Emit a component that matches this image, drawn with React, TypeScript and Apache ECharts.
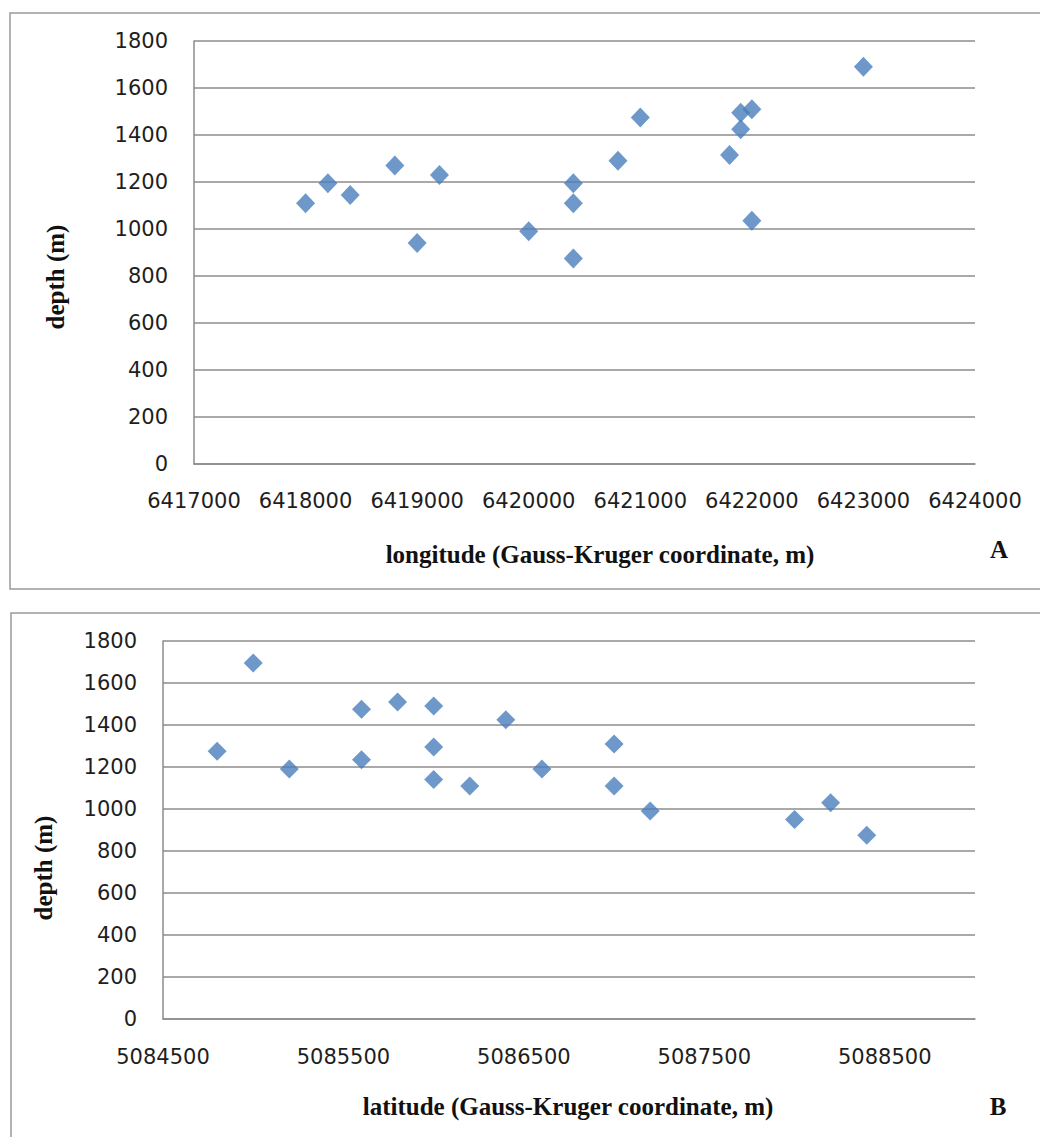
import React, { useEffect, useRef } from "react";
import * as echarts from "echarts";

// Panel A: longitude vs depth
const lonValues = [6418000, 6418200, 6418400, 6418800, 6419000, 6419200, 6420000, 6420400, 6420400, 6420400, 6420800, 6421000, 6421800, 6421900, 6421900, 6422000, 6422000, 6423000];
const lonDepths = [1110, 1195, 1145, 1270, 940, 1230, 990, 1195, 1110, 875, 1290, 1475, 1315, 1425, 1495, 1510, 1035, 1690];

// Panel B: latitude vs depth
const latValues = [5084800, 5085000, 5085200, 5085600, 5085600, 5085800, 5086000, 5086000, 5086000, 5086200, 5086400, 5086600, 5087000, 5087000, 5087200, 5088000, 5088200, 5088400];
const latDepths = [1275, 1695, 1190, 1475, 1235, 1510, 1490, 1295, 1140, 1110, 1425, 1190, 1310, 1110, 990, 950, 1030, 875];

// Axis ranges
const depthRange = [0, 1800, 200];
const lonRange = [6417000, 6424000, 1000];
const latRange = [5084500, 5089000, 500];
const latLabelStep = 1000;

const titleA = "longitude (Gauss-Kruger coordinate, m)";
const titleB = "latitude (Gauss-Kruger coordinate, m)";
const yTitle = "depth (m)";

const GRID_COLOR = "#8c8c8c";
const MARKER = "#4a7ebb";
const LABEL_FONT = "'DejaVu Sans', Verdana, sans-serif";
const SERIF = "'Liberation Serif', 'Times New Roman', serif";

export default function App() {
  const ref = useRef<HTMLDivElement>(null);
  useEffect(() => {
    if (!ref.current) return;
    const chart = echarts.init(ref.current, undefined, { renderer: "svg" });
    const labelStyle = { color: "#1e1e1e", fontFamily: LABEL_FONT, fontSize: 21 };
    const lineStyle = { color: GRID_COLOR, width: 1.5 };
    const yAxisBase = {
      type: "value" as const,
      min: depthRange[0],
      max: depthRange[1],
      interval: depthRange[2],
      axisLine: { show: true, lineStyle },
      axisTick: { show: false },
      splitLine: { show: true, lineStyle },
      axisLabel: { ...labelStyle, margin: 26, formatter: (v: number) => String(v) },
    };
    chart.setOption({
      animation: false,
      backgroundColor: "#fff",
      grid: [
        { left: 194, top: 41, width: 781, height: 423 },
        { left: 163, top: 641, width: 812, height: 378 },
      ],
      xAxis: [
        {
          gridIndex: 0,
          type: "value",
          min: lonRange[0],
          max: lonRange[1],
          interval: lonRange[2],
          axisLine: { show: true, onZero: false, lineStyle },
          axisTick: { show: false },
          splitLine: { show: false },
          axisLabel: { ...labelStyle, margin: 26, formatter: (v: number) => String(v) },
        },
        {
          gridIndex: 1,
          type: "value",
          min: latRange[0],
          max: latRange[1],
          interval: latRange[2],
          axisLine: { show: true, onZero: false, lineStyle },
          axisTick: { show: false },
          splitLine: { show: false },
          axisLabel: {
            ...labelStyle,
            margin: 27,
            showMaxLabel: false,
            formatter: (v: number) => ((v - latRange[0]) % latLabelStep === 0 ? String(v) : ""),
          },
        },
      ],
      yAxis: [
        { ...yAxisBase, gridIndex: 0 },
        { ...yAxisBase, gridIndex: 1 },
      ],
      series: [
        {
          type: "scatter",
          xAxisIndex: 0,
          yAxisIndex: 0,
          symbol: "diamond",
          symbolSize: [19, 20],
          itemStyle: { color: MARKER },
          data: lonValues.map((x, i) => [x, lonDepths[i]]),
        },
        {
          type: "scatter",
          xAxisIndex: 1,
          yAxisIndex: 1,
          symbol: "diamond",
          symbolSize: [19, 19],
          itemStyle: { color: MARKER },
          data: latValues.map((x, i) => [x, latDepths[i]]),
        },
      ],
      graphic: [
        {
          type: "rect",
          shape: { x: 10, y: 13, width: 1060, height: 576 },
          style: { fill: "none", stroke: "#9a9a9a", lineWidth: 1.5 },
          silent: true,
          z: -1,
        },
        {
          type: "rect",
          shape: { x: 11, y: 613, width: 1060, height: 560 },
          style: { fill: "none", stroke: "#9a9a9a", lineWidth: 1.5 },
          silent: true,
          z: -1,
        },
        {
          type: "text",
          x: 600,
          y: 554,
          style: { text: titleA, font: `bold 25px ${SERIF}`, fill: "#111", align: "center", verticalAlign: "middle" },
        },
        {
          type: "text",
          x: 999,
          y: 549,
          style: { text: "A", font: `bold 25px ${SERIF}`, fill: "#111", align: "center", verticalAlign: "middle" },
        },
        {
          type: "text",
          x: 568,
          y: 1106,
          style: { text: titleB, font: `bold 25px ${SERIF}`, fill: "#111", align: "center", verticalAlign: "middle" },
        },
        {
          type: "text",
          x: 998,
          y: 1106,
          style: { text: "B", font: `bold 25px ${SERIF}`, fill: "#111", align: "center", verticalAlign: "middle" },
        },
        {
          type: "text",
          x: 55,
          y: 277,
          rotation: Math.PI / 2,
          style: { text: yTitle, font: `bold 25px ${SERIF}`, fill: "#111", align: "center", verticalAlign: "middle" },
        },
        {
          type: "text",
          x: 43,
          y: 868,
          rotation: Math.PI / 2,
          style: { text: yTitle, font: `bold 25px ${SERIF}`, fill: "#111", align: "center", verticalAlign: "middle" },
        },
      ],
    });
    return () => chart.dispose();
  }, []);
  return (
    <div
      ref={ref}
      style={{ position: "absolute", left: 0, top: 0, width: 1040, height: 1137, overflow: "hidden" }}
    />
  );
}
